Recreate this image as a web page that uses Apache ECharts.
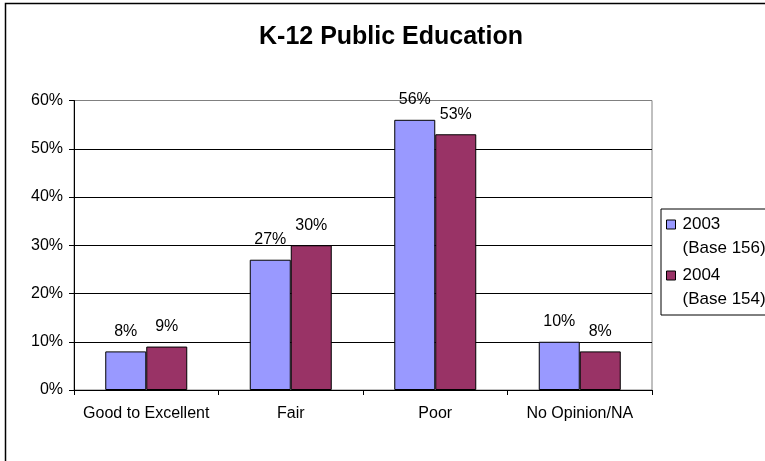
<!DOCTYPE html>
<html>
<head>
<meta charset="utf-8">
<script src="https://cdn.jsdelivr.net/npm/echarts@6/dist/echarts.min.js"></script>
<style>
html,body{margin:0;padding:0;background:#fff;}
#chart{width:765px;height:461px;}
</style>
</head>
<body>
<div id="chart"></div>
<script>
var categories = ['Good to Excellent', 'Fair', 'Poor', 'No Opinion/NA'];
var values2003 = [8, 27, 56, 10];
var values2004 = [9, 30, 53, 8];
var seriesNames = ['2003\n(Base 156)', '2004\n(Base 154)'];
var yTicks = { min: 0, max: 60, interval: 10 };
var titleText = 'K-12 Public Education';

var FONT = '"Liberation Sans", Arial, sans-serif';
var chart = echarts.init(document.getElementById('chart'), null, { renderer: 'canvas' });

function barSeries(name, data, color) {
  return {
    type: 'bar',
    name: name,
    data: data,
    barWidth: 41,
    barGap: '0%',
    itemStyle: { color: color, borderColor: '#000', borderWidth: 1 },
    label: {
      show: true,
      position: 'top',
      distance: 12,
      formatter: '{c}%',
      color: '#000',
      fontFamily: FONT,
      fontSize: 16
    }
  };
}

chart.setOption({
  animation: false,
  backgroundColor: '#fff',
  title: {
    text: titleText,
    left: 259,
    top: 25,
    padding: 0,
    textStyle: { fontFamily: FONT, fontSize: 25, fontWeight: 'bold', color: '#000' }
  },
  graphic: [{
    type: 'rect',
    silent: true,
    shape: { x: 5.5, y: 3.5, width: 800, height: 500 },
    style: { fill: 'none', stroke: '#000', lineWidth: 1.5 }
  }],
  legend: {
    orient: 'vertical',
    left: 661,
    top: 209,
    padding: [3, 12, 3, 5],
    itemGap: 2,
    itemWidth: 9,
    itemHeight: 48,
    icon: 'path://M0,0L0,0M0,7.5h9v9h-9zM0,48L0,48',
    borderColor: '#000',
    borderWidth: 1,
    itemStyle: { borderColor: '#000', borderWidth: 1 },
    textStyle: { fontFamily: FONT, fontSize: 17, lineHeight: 24, color: '#000', padding: [0, 0, 0, 2] },
    data: seriesNames
  },
  grid: {
    left: 74,
    right: 113,
    top: 100.5,
    bottom: 71,
    containLabel: false,
    outerBoundsMode: 'none',
    show: true,
    borderColor: '#808080',
    borderWidth: 1,
    backgroundColor: '#fff'
  },
  xAxis: {
    type: 'category',
    data: categories,
    boundaryGap: true,
    axisLine: { lineStyle: { color: '#000', width: 1 } },
    axisTick: { show: true, length: 5, alignWithLabel: false, interval: 0, lineStyle: { color: '#000' } },
    axisLabel: { interval: 0, margin: 16, color: '#000', fontFamily: FONT, fontSize: 16 },
    splitLine: { show: false }
  },
  yAxis: {
    type: 'value',
    min: yTicks.min,
    max: yTicks.max,
    interval: yTicks.interval,
    axisLine: { show: true, lineStyle: { color: '#000', width: 1 } },
    axisTick: { show: true, length: 5, inside: false, lineStyle: { color: '#000' } },
    axisLabel: { margin: 11, formatter: '{value}%', color: '#000', fontFamily: FONT, fontSize: 16 },
    splitLine: { show: true, showMinLine: false, showMaxLine: false, lineStyle: { color: '#000', width: 1 } }
  },
  series: [
    barSeries(seriesNames[0], values2003, '#9999FF'),
    barSeries(seriesNames[1], values2004, '#993366')
  ]
});
</script>
</body>
</html>
